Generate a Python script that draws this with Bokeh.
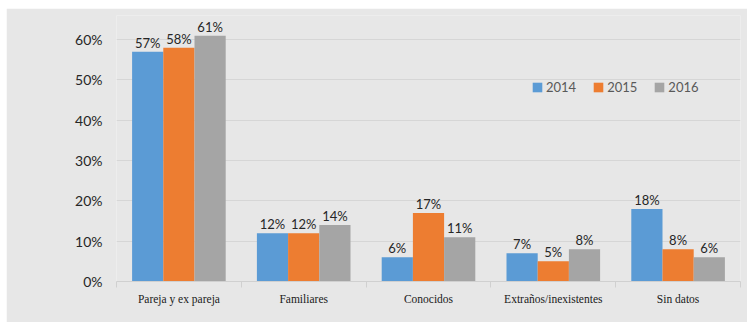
from bokeh.plotting import figure
from bokeh.models import ColumnDataSource, FixedTicker, Legend, LegendItem, NumeralTickFormatter
from bokeh.transform import dodge
from bokeh.core.properties import value
from bokeh.embed import file_html
from bokeh.resources import INLINE

categories = ["Pareja y ex pareja", "Familiares", "Conocidos", "Extraños/inexistentes", "Sin datos"]
years = ["2014", "2015", "2016"]
v2014 = [0.57, 0.12, 0.06, 0.07, 0.18]
v2015 = [0.58, 0.12, 0.17, 0.05, 0.08]
v2016 = [0.61, 0.14, 0.11, 0.08, 0.06]
y_ticks = [0.0, 0.1, 0.2, 0.3, 0.4, 0.5, 0.6]

colors = ["#5B9BD5", "#ED7D31", "#A5A5A5"]
bg = "#E7E7E7"

xc = [i + 0.5 for i in range(len(categories))]
src = ColumnDataSource(dict(
    x=xc, v2014=v2014, v2015=v2015, v2016=v2016,
    l2014=[f"{round(v*100)}%" for v in v2014],
    l2015=[f"{round(v*100)}%" for v in v2015],
    l2016=[f"{round(v*100)}%" for v in v2016],
))

p = figure(width=741, height=314, output_backend="svg", toolbar_location=None,
           x_range=(0, len(categories)), y_range=(0, 0.66),
           background_fill_color=bg, border_fill_color=bg,
           min_border_left=110, min_border_right=7, min_border_top=7, min_border_bottom=41)
p.margin = (8, 0, 0, 6)
p.outline_line_color = None

offs = [-0.25, 0.0, 0.25]
items = []
for yr, col, off in zip(years, colors, offs):
    r = p.vbar(x=dodge("x", off, range=p.x_range), top="v" + yr, width=0.25, source=src,
               fill_color=col, line_color=None)
    items.append(LegendItem(label=yr, renderers=[r]))
    p.text(x=dodge("x", off, range=p.x_range), y="v" + yr, text="l" + yr, source=src,
           text_align="center", text_baseline="bottom", y_offset=-1,
           text_font=value("Lato"), text_font_size="13px", text_color="#262626")

# axes
p.xaxis.ticker = FixedTicker(ticks=xc, minor_ticks=list(range(len(categories) + 1)))
p.xaxis.major_label_overrides = {x: c for x, c in zip(xc, categories)}
p.xaxis.major_tick_line_color = None
p.xaxis.minor_tick_line_color = "#D0D0D0"
p.xaxis.minor_tick_in = 0
p.xaxis.minor_tick_out = 6
p.xaxis.axis_line_color = "#D0D0D0"
p.xaxis.major_label_text_font = "Liberation Serif"
p.xaxis.major_label_text_font_size = "11.5px"
p.xaxis.major_label_text_color = "#1a1a1a"
p.xaxis.major_label_standoff = 5

p.yaxis.ticker = FixedTicker(ticks=y_ticks)
p.yaxis.formatter = NumeralTickFormatter(format="0%")
p.yaxis.axis_line_color = None
p.yaxis.major_tick_line_color = None
p.yaxis.minor_tick_line_color = None
p.yaxis.major_label_text_font = "Lato"
p.yaxis.major_label_text_font_size = "14px"
p.yaxis.major_label_text_color = "#262626"
p.yaxis.major_label_standoff = 8

p.xgrid.grid_line_color = None
p.ygrid.ticker = FixedTicker(ticks=y_ticks)
p.ygrid.grid_line_color = "#D6D6D6"

leg = Legend(items=items, orientation="horizontal", location=(415, 186),
             background_fill_alpha=0, border_line_color=None,
             glyph_width=12, glyph_height=12, label_standoff=3, spacing=16, padding=0, margin=0,
             label_text_font="Lato", label_text_font_size="13px", label_text_color="#595959")
p.add_layout(leg)

open("out.html", "w").write(file_html(p, INLINE))
